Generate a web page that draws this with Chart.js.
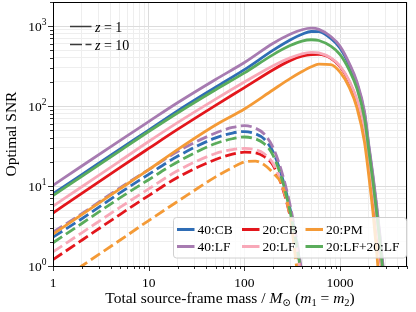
<!DOCTYPE html>
<html>
<head>
<meta charset="utf-8">
<script src="https://cdn.jsdelivr.net/npm/chart.js@4.4.1/dist/chart.umd.min.js"></script>
<style>
  html, body { margin: 0; padding: 0; background: #fff; }
  canvas { display: block; }
</style>
</head>
<body>
<canvas id="snrChart" width="416" height="312"></canvas>
<script>
// Masses (total source-frame, solar masses) sampled for each redshift
const massZ1 = [1, 2, 5, 10, 20, 50, 100, 200, 300, 400, 500, 600, 800, 1000, 1250, 1500, 1800, 2000, 2200, 2400, 2600, 2800, 3000];
const massZ10 = [1, 2, 5, 10, 20, 50, 75, 100, 130, 160, 200, 250, 300, 350, 400, 450];

// Optimal SNR, z = 1 (solid)
const snr40CBz1 = [8.0, 13.9, 29, 50, 87, 172, 285, 500, 670, 790, 855, 850, 700, 530, 325, 190, 80, 30, 13, 5.5, 2.3, 0.95, 0.4];
const snr40LFz1 = [10.2, 17.8, 37, 64, 110, 215, 350, 610, 790, 900, 940, 910, 740, 560, 340, 200, 85, 32, 14, 6, 2.5, 1.05, 0.45];
const snr20CBz1 = [4.6, 8.1, 17, 29.5, 51, 102, 170, 285, 370, 420, 440, 442, 395, 310, 200, 115, 50, 20, 8.5, 3.5, 1.5, 0.65, 0.28];
const snr20LFz1 = [5.6, 9.8, 20.5, 36, 62, 122, 200, 320, 400, 450, 470, 462, 400, 315, 205, 120, 52, 21, 9, 3.8, 1.6, 0.7, 0.3];
const snr20PMz1 = [2.5, 4.4, 9.2, 16, 28.5, 58, 92, 160, 220, 270, 310, 335, 330, 265, 170, 95, 35, 13, 4.8, 1.6, 0.5, 0.15, 0.05];
const snrLFLFz1 = [7.6, 13.2, 27.5, 48, 82, 160, 260, 440, 570, 650, 675, 660, 560, 440, 280, 165, 70, 27, 11.5, 4.8, 2.0, 0.85, 0.35];

// Optimal SNR, z = 10 (dashed)
const snr40CBz10 = [2.3, 3.9, 8.2, 14, 23.5, 40, 46, 48, 45, 39, 26.5, 12.5, 5.2, 2.0, 0.72, 0.27];
const snr40LFz10 = [2.65, 4.5, 9.5, 16, 27, 46, 54, 57, 53, 45, 30, 14, 5.8, 2.2, 0.8, 0.3];
const snr20CBz10 = [1.2, 2.1, 4.4, 7.6, 12.8, 21.5, 25, 26.5, 26, 23.5, 18, 9.5, 4.2, 1.6, 0.6, 0.22];
const snr20LFz10 = [1.5, 2.6, 5.4, 9.2, 15.5, 25.5, 28.5, 29.5, 28.5, 25.5, 19, 10, 4.4, 1.7, 0.62, 0.22];
const snr20PMz10 = [0.55, 1.0, 2.1, 3.7, 6.4, 13, 17, 20, 20.5, 18.5, 14.5, 10, 4.2, 1.0, 0.3, 0.1];
const snrLFLFz10 = [1.95, 3.4, 7.1, 12, 20, 34, 39, 41, 39, 34, 24, 11.5, 4.8, 1.85, 0.68, 0.25];

// Networks, in plotting order
const seriesNames = ['40:CB', '40:LF', '20:CB', '20:LF', '20:PM', '20:LF+20:LF'];
const seriesColors = ['#2f6db5', '#a77bb1', '#e3161c', '#f8a8b8', '#f49a36', '#5aac5b'];
const seriesZ1 = [snr40CBz1, snr40LFz1, snr20CBz1, snr20LFz1, snr20PMz1, snrLFLFz1];
const seriesZ10 = [snr40CBz10, snr40LFz10, snr20CBz10, snr20LFz10, snr20PMz10, snrLFLFz10];

// Axis ticks
const xTickValues = [1, 10, 100, 1000];
const xTickLabels = ['1', '10', '100', '1000'];
const yTickValues = [1, 10, 100, 1000];
const yTickExponents = ['0', '1', '2', '3'];

const SERIF = "'Liberation Serif', 'DejaVu Serif', serif";

function toPoints(xs, ys) {
  return xs.map((x, i) => ({ x: x, y: ys[i] }));
}

function logTicks(min, max) {
  const out = [];
  for (let k = 0; k < 5; k++) {
    for (let m = 1; m < 10; m++) {
      const v = m * Math.pow(10, k);
      if (v >= min && v <= max) out.push({ value: v });
    }
  }
  return out;
}

function isDecade(v) {
  const l = Math.log10(v);
  return Math.abs(l - Math.round(l)) < 1e-9;
}

// draw a run of text pieces: [text, font, dy]
function drawRuns(ctx, runs, x, y) {
  let cx = x;
  runs.forEach(r => {
    ctx.font = r[1];
    ctx.fillText(r[0], cx, y + (r[2] || 0));
    cx += ctx.measureText(r[0]).width;
  });
}
function runsWidth(ctx, runs) {
  let w = 0;
  runs.forEach(r => { ctx.font = r[1]; w += ctx.measureText(r[0]).width; });
  return w;
}

const datasets = [];
seriesNames.forEach((name, i) => {
  datasets.push({
    label: name + ' z=1',
    data: toPoints(massZ1, seriesZ1[i]),
    borderColor: seriesColors[i],
    borderWidth: 2.8,
    pointRadius: 0,
    cubicInterpolationMode: 'monotone',
    order: 100 - 2 * i
  });
  datasets.push({
    label: name + ' z=10',
    data: toPoints(massZ10, seriesZ10[i]),
    borderColor: seriesColors[i],
    borderWidth: 2.8,
    borderDash: [11, 4.5],
    pointRadius: 0,
    cubicInterpolationMode: 'monotone',
    order: 99 - 2 * i
  });
});

const gridColor = (ctx) => isDecade(ctx.tick.value) ? '#dcdcdc' : '#eeeeee';

// frame, tick marks, y labels, axis titles and both legends
const decorations = {
  id: 'decorations',
  afterDatasetsDraw(chart) {
    const { ctx, chartArea: a, scales: { x, y } } = chart;
    ctx.save();

    // tick marks (outward)
    ctx.strokeStyle = '#000';
    ctx.lineWidth = 0.8;
    x.ticks.forEach(t => {
      const px = Math.round(x.getPixelForValue(t.value)) + 0.5;
      const len = isDecade(t.value) ? 5 : 3;
      ctx.beginPath(); ctx.moveTo(px, a.bottom); ctx.lineTo(px, a.bottom + len); ctx.stroke();
    });
    y.ticks.forEach(t => {
      const py = Math.round(y.getPixelForValue(t.value)) + 0.5;
      const len = isDecade(t.value) ? 5 : 3;
      ctx.beginPath(); ctx.moveTo(a.left - len, py); ctx.lineTo(a.left, py); ctx.stroke();
    });

    // frame
    ctx.lineWidth = 1;
    ctx.strokeRect(Math.round(a.left) + 0.5, Math.round(a.top) + 0.5,
      Math.round(a.right - a.left) - 1, Math.round(a.bottom - a.top));

    // y tick labels 10^n
    ctx.fillStyle = '#000';
    ctx.textBaseline = 'middle';
    ctx.textAlign = 'left';
    yTickValues.forEach((v, i) => {
      const py = y.getPixelForValue(v);
      const runs = [['10', '13.5px ' + SERIF, 1], [yTickExponents[i], '9.5px ' + SERIF, -4]];
      const w = runsWidth(ctx, runs);
      drawRuns(ctx, runs, 46.5 - w, py);
    });

    // y title
    ctx.save();
    ctx.translate(12, (a.top + a.bottom) / 2);
    ctx.rotate(-Math.PI / 2);
    ctx.font = '15.5px ' + SERIF;
    ctx.textAlign = 'center';
    ctx.fillText('Optimal SNR', 0, 0);
    ctx.restore();

    // x title
    ctx.textBaseline = 'alphabetic';
    const reg = '15.5px ' + SERIF;
    const ita = 'italic 15.5px ' + SERIF;
    const sub = '10.5px ' + SERIF;
    const xRuns = [
      ['Total source-frame mass / ', reg], ['M', ita], ['\u2299', sub, 3],
      [' (', reg], ['m', ita], ['1', sub, 3], [' = ', reg], ['m', ita], ['2', sub, 3], [')', reg]
    ];
    const xw = runsWidth(ctx, xRuns);
    drawRuns(ctx, xRuns, (a.left + a.right) / 2 - xw / 2, 302.5);

    // redshift legend (top left)
    ctx.strokeStyle = '#3a3a3a';
    ctx.lineWidth = 1.5;
    ctx.beginPath(); ctx.moveTo(70, 26.5); ctx.lineTo(91.5, 26.5); ctx.stroke();
    ctx.setLineDash([12, 3.5]);
    ctx.beginPath(); ctx.moveTo(70, 44.5); ctx.lineTo(91.5, 44.5); ctx.stroke();
    ctx.setLineDash([]);
    const lf = '14px ' + SERIF, li = 'italic 14px ' + SERIF;
    drawRuns(ctx, [['z', li], [' = 1', lf]], 95, 31.5);
    drawRuns(ctx, [['z', li], [' = 10', lf]], 95, 49.5);

    // network legend box (bottom right)
    const bx = 173.5, by = 217.5, bw = 233, bh = 40.5, r = 3;
    ctx.beginPath();
    ctx.moveTo(bx + r, by);
    ctx.arcTo(bx + bw, by, bx + bw, by + bh, r);
    ctx.arcTo(bx + bw, by + bh, bx, by + bh, r);
    ctx.arcTo(bx, by + bh, bx, by, r);
    ctx.arcTo(bx, by, bx + bw, by, r);
    ctx.closePath();
    ctx.fillStyle = 'rgba(255,255,255,0.8)';
    ctx.fill();
    ctx.strokeStyle = '#d0d0d0';
    ctx.lineWidth = 1;
    ctx.stroke();

    const colX = [177, 242, 305.5];
    const rowY = [229.5, 246.5];
    ctx.font = '13.5px ' + SERIF;
    ctx.textBaseline = 'middle';
    seriesNames.forEach((name, i) => {
      const cx = colX[Math.floor(i / 2)];
      const cy = rowY[i % 2];
      ctx.strokeStyle = seriesColors[i];
      ctx.lineWidth = 3;
      ctx.beginPath(); ctx.moveTo(cx, cy); ctx.lineTo(cx + 17.5, cy); ctx.stroke();
      ctx.fillStyle = '#000';
      ctx.fillText(name, cx + 20.5, cy + 1);
    });

    ctx.restore();
  }
};

new Chart(document.getElementById('snrChart'), {
  type: 'line',
  data: { datasets: datasets },
  options: {
    responsive: false,
    animation: false,
    layout: { padding: { top: 2, right: 3, left: 0, bottom: 0 } },
    plugins: { legend: { display: false }, tooltip: { enabled: false } },
    scales: {
      x: {
        type: 'logarithmic',
        min: 1,
        max: 5000,
        afterBuildTicks: (scale) => { scale.ticks = logTicks(1, 5000); },
        afterFit: (scale) => { scale.height = 46; },
        grid: { color: gridColor, lineWidth: 1, drawTicks: false },
        border: { display: false },
        ticks: {
          autoSkip: false,
          maxRotation: 0,
          padding: 9,
          color: '#000',
          font: { family: SERIF, size: 13.5 },
          callback: (v) => {
            const k = xTickValues.indexOf(v);
            return k >= 0 ? xTickLabels[k] : '';
          }
        }
      },
      y: {
        type: 'logarithmic',
        min: 1,
        max: 2000,
        afterBuildTicks: (scale) => { scale.ticks = logTicks(1, 2000); },
        afterFit: (scale) => { scale.width = 53; },
        grid: { color: gridColor, lineWidth: 1, drawTicks: false },
        border: { display: false },
        ticks: { display: false }
      }
    }
  },
  plugins: [decorations]
});
</script>
</body>
</html>
